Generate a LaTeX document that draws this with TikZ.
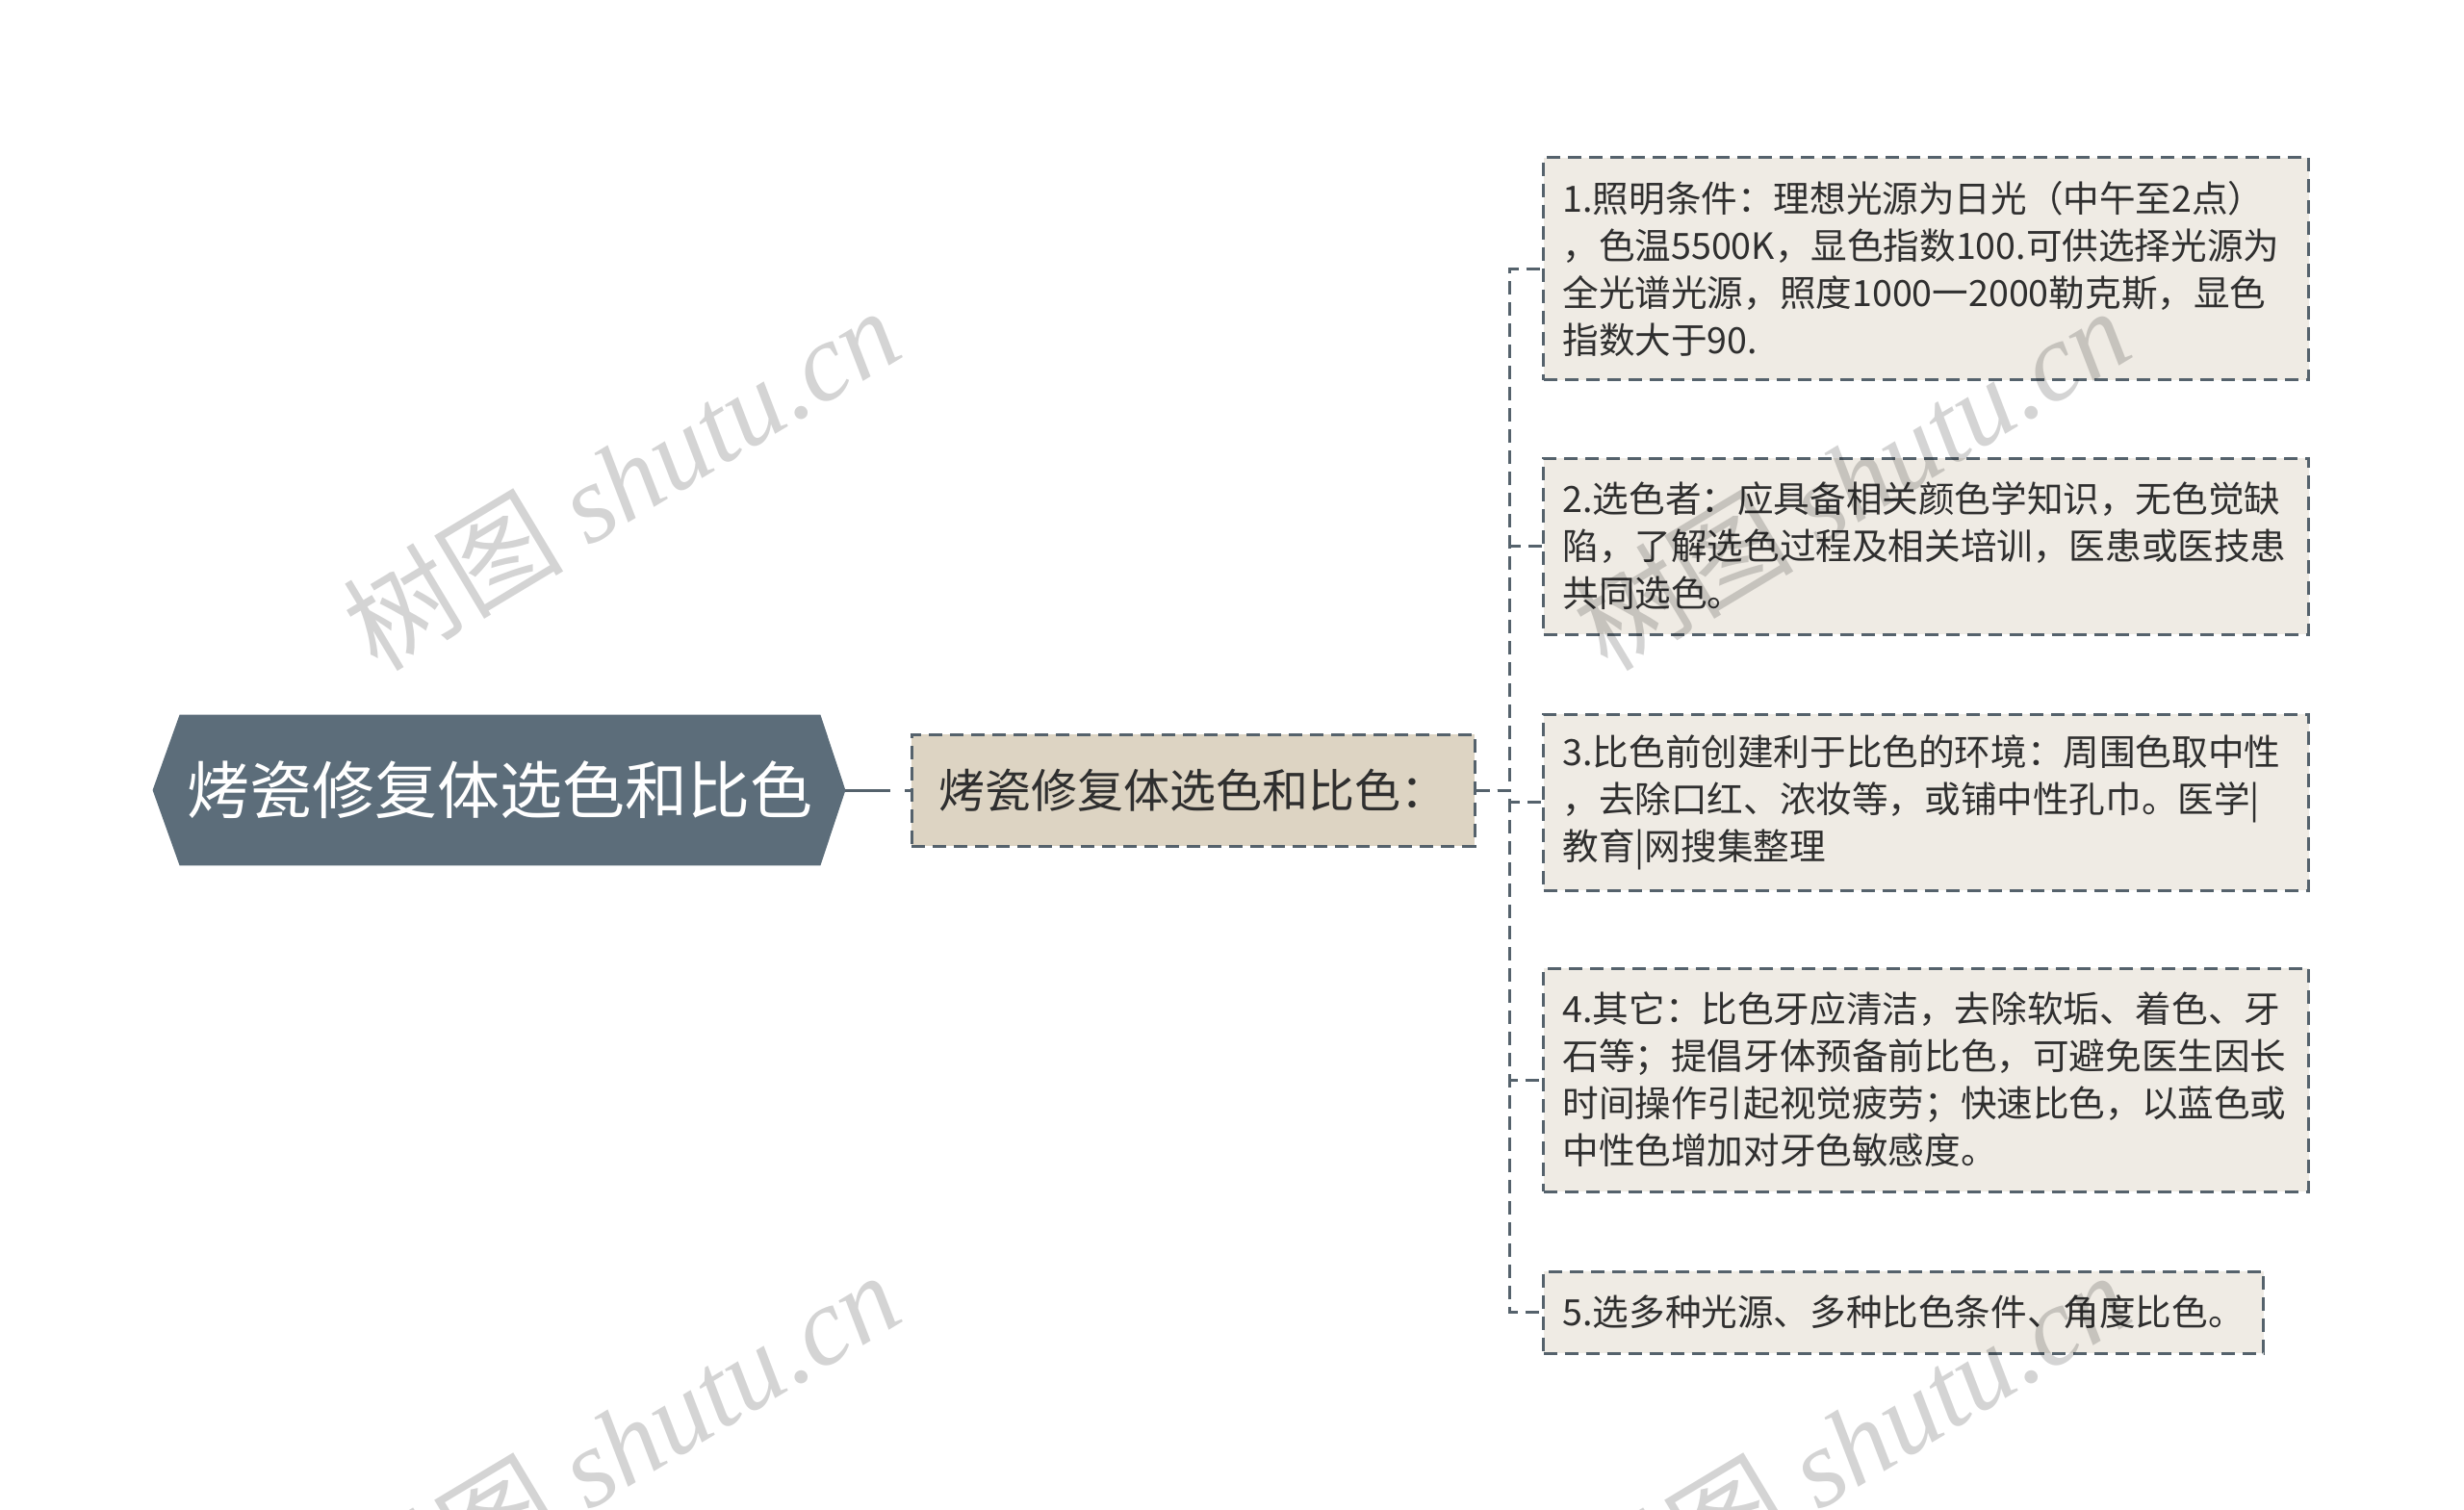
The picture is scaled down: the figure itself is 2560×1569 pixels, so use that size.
\documentclass[tikz,border=0pt]{standalone}
\usepackage{fontspec}
\setmainfont{Noto Sans CJK SC}
\newfontfamily\wmfont{Liberation Serif}
\usepackage{xcolor}
\usepackage{tikz}
\usetikzlibrary{calc}
\usetikzlibrary{positioning}
\usetikzlibrary{backgrounds}

\definecolor{rootfill}{HTML}{5C6D7A}
\definecolor{subfill}{HTML}{DDD4C3}
\definecolor{leaffill}{HTML}{EFEBE4}
\definecolor{edgecol}{HTML}{55626C}
\definecolor{inkcol}{HTML}{2F2F2F}

\tikzset{
  rootnode/.style={inner sep=0pt, minimum width=332.5pt, minimum height=78pt,
    text=white, font=\fontsize{32.5pt}{40pt}\selectfont},
  subnode/.style={rectangle, draw=edgecol, fill=subfill, line width=1.5pt,
    dash pattern=on 7pt off 4pt, minimum width=292.5pt, minimum height=58pt,
    inner sep=0pt, text=inkcol, font=\fontsize{24pt}{30pt}\selectfont},
  leafnode/.style={rectangle, draw=edgecol, fill=leaffill, line width=1.5pt,
    dash pattern=on 7pt off 4pt, anchor=west, align=left, inner xsep=10pt,
    inner ysep=0pt, text=inkcol, font=\fontsize{18.8pt}{24.5pt}\selectfont},
  conn/.style={draw=edgecol, line width=1.5pt, dash pattern=on 7pt off 4pt},
  rootconn/.style={draw=edgecol, line width=1.5pt, dash pattern=on 23.5pt off 7.5pt on 10pt off 0pt},
  wmark/.style={anchor=base west, rotate=31, text=black, text opacity=0.17,
    inner sep=0pt, font=\fontsize{57.5pt}{60pt}\selectfont}
}

\begin{document}
\begin{tikzpicture}[x=0.5pt, y=-0.5pt]
\useasboundingbox (0,0) rectangle (2560,1569);

% root and its hexagon
\node [rootnode] (root) at (519.5, 821) {烤瓷修复体选色和比色};
\coordinate (roottip) at ([xshift=13pt]root.east);
\begin{scope}[on background layer]
\fill [rootfill] (root.north west) -- (root.north east) -- (roottip)
  -- (root.south east) -- (root.south west) -- ([xshift=-14pt]root.west) -- cycle;
\end{scope}

\node [subnode] (sub) at (1239.5, 821) {烤瓷修复体选色和比色：};

% leaves
\node [leafnode, text width=377.5pt, minimum height=115.5pt] (c1) at (1602, 279)
  {1.照明条件：理想光源为日光（中午至2点）\\，色温5500K，显色指数100.可供选择光源为\\全光谱光源，照度1000一2000勒克斯，显色\\指数大于90.};
\node [leafnode, text width=377.5pt, minimum height=91.5pt] (c2) at (1602, 567.5)
  {2.选色者：应具备相关颜色学知识，无色觉缺\\陷，了解选色过程及相关培训，医患或医技患\\共同选色。};
\node [leafnode, text width=377.5pt, minimum height=91.5pt] (c3) at (1602, 833.5)
  {3.比色前创建利于比色的环境：周围色取中性\\，去除口红、浓妆等，或铺中性孔巾。医学|\\教育|网搜集整理};
\node [leafnode, text width=377.5pt, minimum height=116pt] (c4) at (1602, 1122)
  {4.其它：比色牙应清洁，去除软垢、着色、牙\\石等；提倡牙体预备前比色，可避免医生因长\\时间操作引起视觉疲劳；快速比色，以蓝色或\\中性色增加对牙色敏感度。};
\node [leafnode, minimum height=42.5pt] (c5) at (1602, 1363.5)
  {5.选多种光源、多种比色条件、角度比色。};

% connectors
\draw [rootconn] (roottip) -- (sub.west);
\foreach \c in {c1, c2, c3, c4, c5}
  \draw [conn] (sub.east) -- ++(35, 0) |- (\c.west);

% watermarks
\node [wmark] (wm1) at (392, 700) {树图 {\wmfont\itshape shutu.cn}};
\node [wmark] (wm2) at (1670, 700) {树图 {\wmfont\itshape shutu.cn}};
\node [wmark] (wm3) at (392, 1702) {树图 {\wmfont\itshape shutu.cn}};
\node [wmark] (wm4) at (1670, 1702) {树图 {\wmfont\itshape shutu.cn}};
\end{tikzpicture}
\end{document}
